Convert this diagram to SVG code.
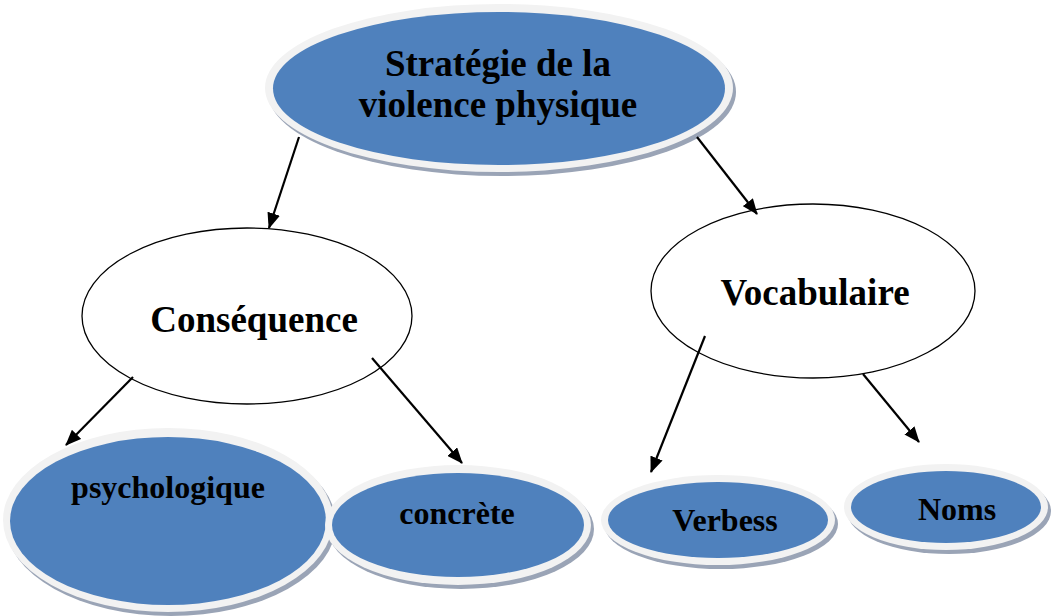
<svg xmlns="http://www.w3.org/2000/svg" width="1053" height="616" viewBox="0 0 1053 616">
<style>
.sh{fill:#9AA4B6}
.rim{fill:#F2F2F2}
.blue{fill:#4F81BD}
.white{fill:#FFFFFF;stroke:#000;stroke-width:1.3}
text{font-family:"Liberation Serif","Times New Roman",serif;font-weight:bold;fill:#000;text-anchor:middle}
.conn line{stroke:#000;stroke-width:2.2}
</style>
<defs>
<marker id="ah" viewBox="0 0 16 13" refX="15" refY="6.5" markerWidth="16" markerHeight="13" markerUnits="userSpaceOnUse" orient="auto">
<path d="M0,0 L16,6.5 L0,13 Z" fill="#000"/>
</marker>
</defs>
<rect width="1053" height="616" fill="#fff"/>
<g id="n-top">
<ellipse class="sh" cx="502" cy="92" rx="234" ry="84"/>
<ellipse class="rim" cx="499" cy="88" rx="234" ry="84"/>
<ellipse class="blue" cx="499" cy="88.5" rx="226" ry="76.5"/>
<text x="498" y="76" font-size="37">Stratégie de la</text>
<text x="498" y="117" font-size="37">violence physique</text>
</g>
<g id="n-consequence">
<ellipse class="white" cx="247" cy="316" rx="165" ry="88"/>
<text x="254" y="332" font-size="37">Conséquence</text>
</g>
<g id="n-vocabulaire">
<ellipse class="white" cx="813" cy="291" rx="162" ry="87"/>
<text x="815" y="305" font-size="37">Vocabulaire</text>
</g>
<g id="n-psychologique">
<ellipse class="sh" cx="171" cy="524" rx="165" ry="92"/>
<ellipse class="rim" cx="168" cy="520" rx="165" ry="92"/>
<ellipse class="blue" cx="168" cy="521" rx="158" ry="84"/>
<text x="168" y="498" font-size="32">psychologique</text>
</g>
<g id="n-concrete">
<ellipse class="sh" cx="461" cy="529" rx="133" ry="60"/>
<ellipse class="rim" cx="458" cy="525" rx="133" ry="60"/>
<ellipse class="blue" cx="458" cy="525" rx="126" ry="52"/>
<text x="457" y="524" font-size="32">concrète</text>
</g>
<g id="n-verbess">
<ellipse class="sh" cx="721" cy="524" rx="117" ry="45"/>
<ellipse class="rim" cx="718" cy="520" rx="117" ry="45"/>
<ellipse class="blue" cx="718" cy="520" rx="110" ry="38"/>
<text x="725" y="531" font-size="32">Verbess</text>
</g>
<g id="n-noms">
<ellipse class="sh" cx="949" cy="511" rx="102" ry="43"/>
<ellipse class="rim" cx="946" cy="507" rx="102" ry="43"/>
<ellipse class="blue" cx="946" cy="507" rx="95" ry="36"/>
<text x="957" y="520" font-size="32">Noms</text>
</g>
<g id="connectors" class="conn">
<line x1="299" y1="137" x2="269" y2="228" marker-end="url(#ah)"/>
<line x1="697" y1="137" x2="757" y2="214" marker-end="url(#ah)"/>
<line x1="133" y1="377" x2="66" y2="445" marker-end="url(#ah)"/>
<line x1="372" y1="358" x2="462" y2="463" marker-end="url(#ah)"/>
<line x1="705" y1="336" x2="651" y2="472" marker-end="url(#ah)"/>
<line x1="863" y1="374" x2="919" y2="442" marker-end="url(#ah)"/>
</g>
</svg>
